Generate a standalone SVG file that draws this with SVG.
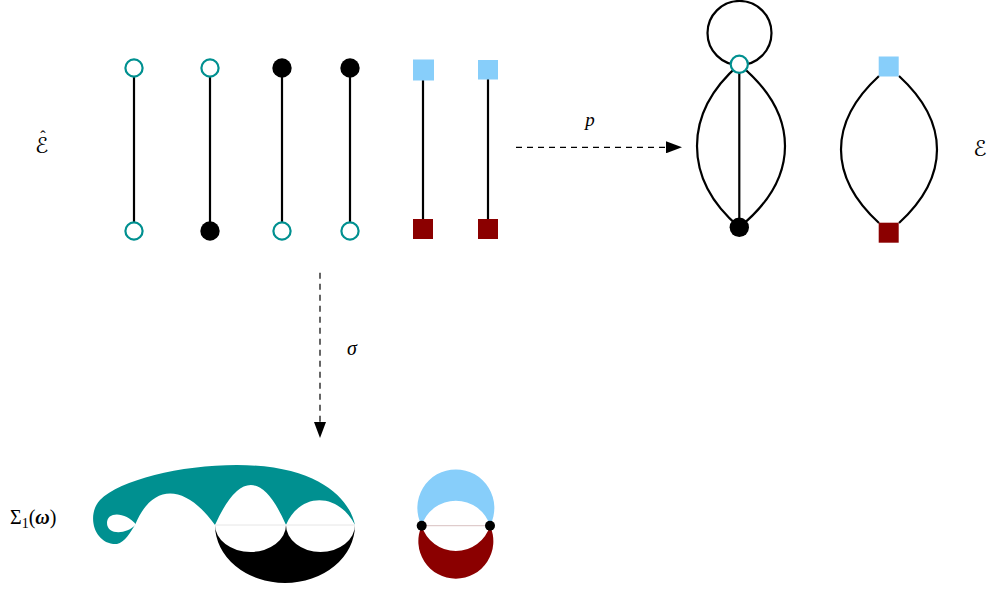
<svg xmlns="http://www.w3.org/2000/svg" width="990" height="590" viewBox="0 0 990 590">
<style>
.edge{stroke:#000;stroke-width:2.2;fill:none}
.hol{fill:#fff;stroke:#009090;stroke-width:2.2}
.blk{fill:#000}
.blue{fill:#87CEFA}
.red{fill:#8B0000}
.dash{stroke:#000;stroke-width:1.2;fill:none;stroke-dasharray:6 5}
.cal{font-family:"DejaVu Sans","Noto Sans",sans-serif;fill:#000}
.lbl{font-family:"Liberation Serif","DejaVu Serif",serif;fill:#000}
.it{font-family:"Liberation Serif","DejaVu Serif",serif;font-style:italic;fill:#000}
</style>
<defs>
<marker id="arr" viewBox="0 0 16 12" refX="0" refY="6" markerWidth="16" markerHeight="12" orient="auto" markerUnits="userSpaceOnUse">
<path d="M0,0 L16,6 L0,12 Z" fill="#000"/>
</marker>
</defs>
<rect width="990" height="590" fill="#fff"/>

<g id="connectors">
<line class="edge" x1="134" y1="68" x2="134" y2="231"/>
<line class="edge" x1="210" y1="68" x2="210" y2="231"/>
<line class="edge" x1="282" y1="68" x2="282" y2="231"/>
<line class="edge" x1="350" y1="68" x2="350" y2="231"/>
<line class="edge" x1="423" y1="70" x2="423" y2="229"/>
<line class="edge" x1="488" y1="70" x2="488" y2="229"/>
<circle class="edge" cx="739.5" cy="33" r="32"/>
<line class="edge" x1="739.3" y1="64.3" x2="739.3" y2="227.3"/>
<path class="edge" d="M739.3,64.3 C712,88 697,115 697,146 C697,177 712,204 739.3,227.3"/>
<path class="edge" d="M739.3,64.3 C768,88 785,115 785,146 C785,177 768,204 739.3,227.3"/>
<path class="edge" d="M879,76 C855,98 841,122 841,149.5 C841,177 855,201 879,223"/>
<path class="edge" d="M899,76 C923,98 937,122 937,149.5 C937,177 923,201 899,223"/>
<line class="dash" x1="516" y1="147.3" x2="666" y2="147.3" marker-end="url(#arr)"/>
<line class="dash" x1="320" y1="272.7" x2="320" y2="422" marker-end="url(#arr)"/>
</g>

<g id="n1t"><circle class="hol" cx="134" cy="68" r="8.6"/></g>
<g id="n1b"><circle class="hol" cx="134" cy="231" r="8.6"/></g>
<g id="n2t"><circle class="hol" cx="210" cy="68" r="8.6"/></g>
<g id="n2b"><circle class="blk" cx="210" cy="231" r="9.7"/></g>
<g id="n3t"><circle class="blk" cx="282" cy="68" r="9.7"/></g>
<g id="n3b"><circle class="hol" cx="282" cy="231" r="8.6"/></g>
<g id="n4t"><circle class="blk" cx="350" cy="68" r="9.7"/></g>
<g id="n4b"><circle class="hol" cx="350" cy="231" r="8.6"/></g>
<g id="n5t"><rect class="blue" x="413" y="59.5" width="21" height="21"/></g>
<g id="n5b"><rect class="red" x="413" y="219" width="20" height="20"/></g>
<g id="n6t"><rect class="blue" x="478" y="60" width="20" height="19.5"/></g>
<g id="n6b"><rect class="red" x="478" y="219" width="20" height="20"/></g>

<g id="m1"><circle class="hol" cx="739.3" cy="64.3" r="8.6"/></g>
<g id="m2"><circle class="blk" cx="739.3" cy="227.3" r="9.7"/></g>
<g id="m3"><rect class="blue" x="878.7" y="56.5" width="20" height="20"/></g>
<g id="m4"><rect class="red" x="878.7" y="222.7" width="20" height="20"/></g>

<g id="labels">
<text class="cal" x="35" y="153" font-size="22">ℰ<tspan class="lbl" font-size="16" dx="-8" dy="-11">ˆ</tspan></text>
<text class="cal" x="980" y="156" font-size="22" text-anchor="middle">ℰ</text>
<text class="it" x="590" y="126" font-size="19" text-anchor="middle">p</text>
<text class="it" x="352" y="355" font-size="20" text-anchor="middle">σ</text>
<text class="lbl" x="10" y="524" font-size="20">Σ<tspan font-size="14" dy="4">1</tspan><tspan dy="-4">(</tspan><tspan font-weight="bold" font-style="italic">ω</tspan>)</text>
</g>

<g id="surface1">
<path fill="#009090" d="M117,544 C125,542 130,533 135,525 C152,483 185,483 215,525 Q251,445 286,525 C300,492 338,492 355,525 C350,500 320,465 237,465 C180,465 120,480 100,500 C86,515 94,545 117,544 Z"/>
<path fill="#fff" d="M136,524.5 C126,512 107,511 107,523 C107,535 126,535 136,524.5 Z"/>
<path fill="#000" d="M215,525 A70 58 0 0 0 355,525 A34.5 27 0 0 1 286,525 A35.5 27 0 0 1 215,525 Z"/>
<line x1="215" y1="525" x2="355" y2="525" stroke="#e6e6e6" stroke-width="1"/>
</g>

<g id="surface2">
<path class="blue" d="M421.7,525.7 A38.5 38.5 0 1 1 490,525.7 A35.8 35.8 0 0 0 421.7,525.7 Z"/>
<path class="red" d="M421.7,525.7 A37.5 37.5 0 1 0 490,525.7 A35.7 35.7 0 0 1 421.7,525.7 Z"/>
<line x1="421.7" y1="525.7" x2="490" y2="525.7" stroke="#d8c0c0" stroke-width="1"/>
<circle class="blk" cx="421.7" cy="525.7" r="5"/>
<circle class="blk" cx="490" cy="525.7" r="5"/>
</g>
</svg>
